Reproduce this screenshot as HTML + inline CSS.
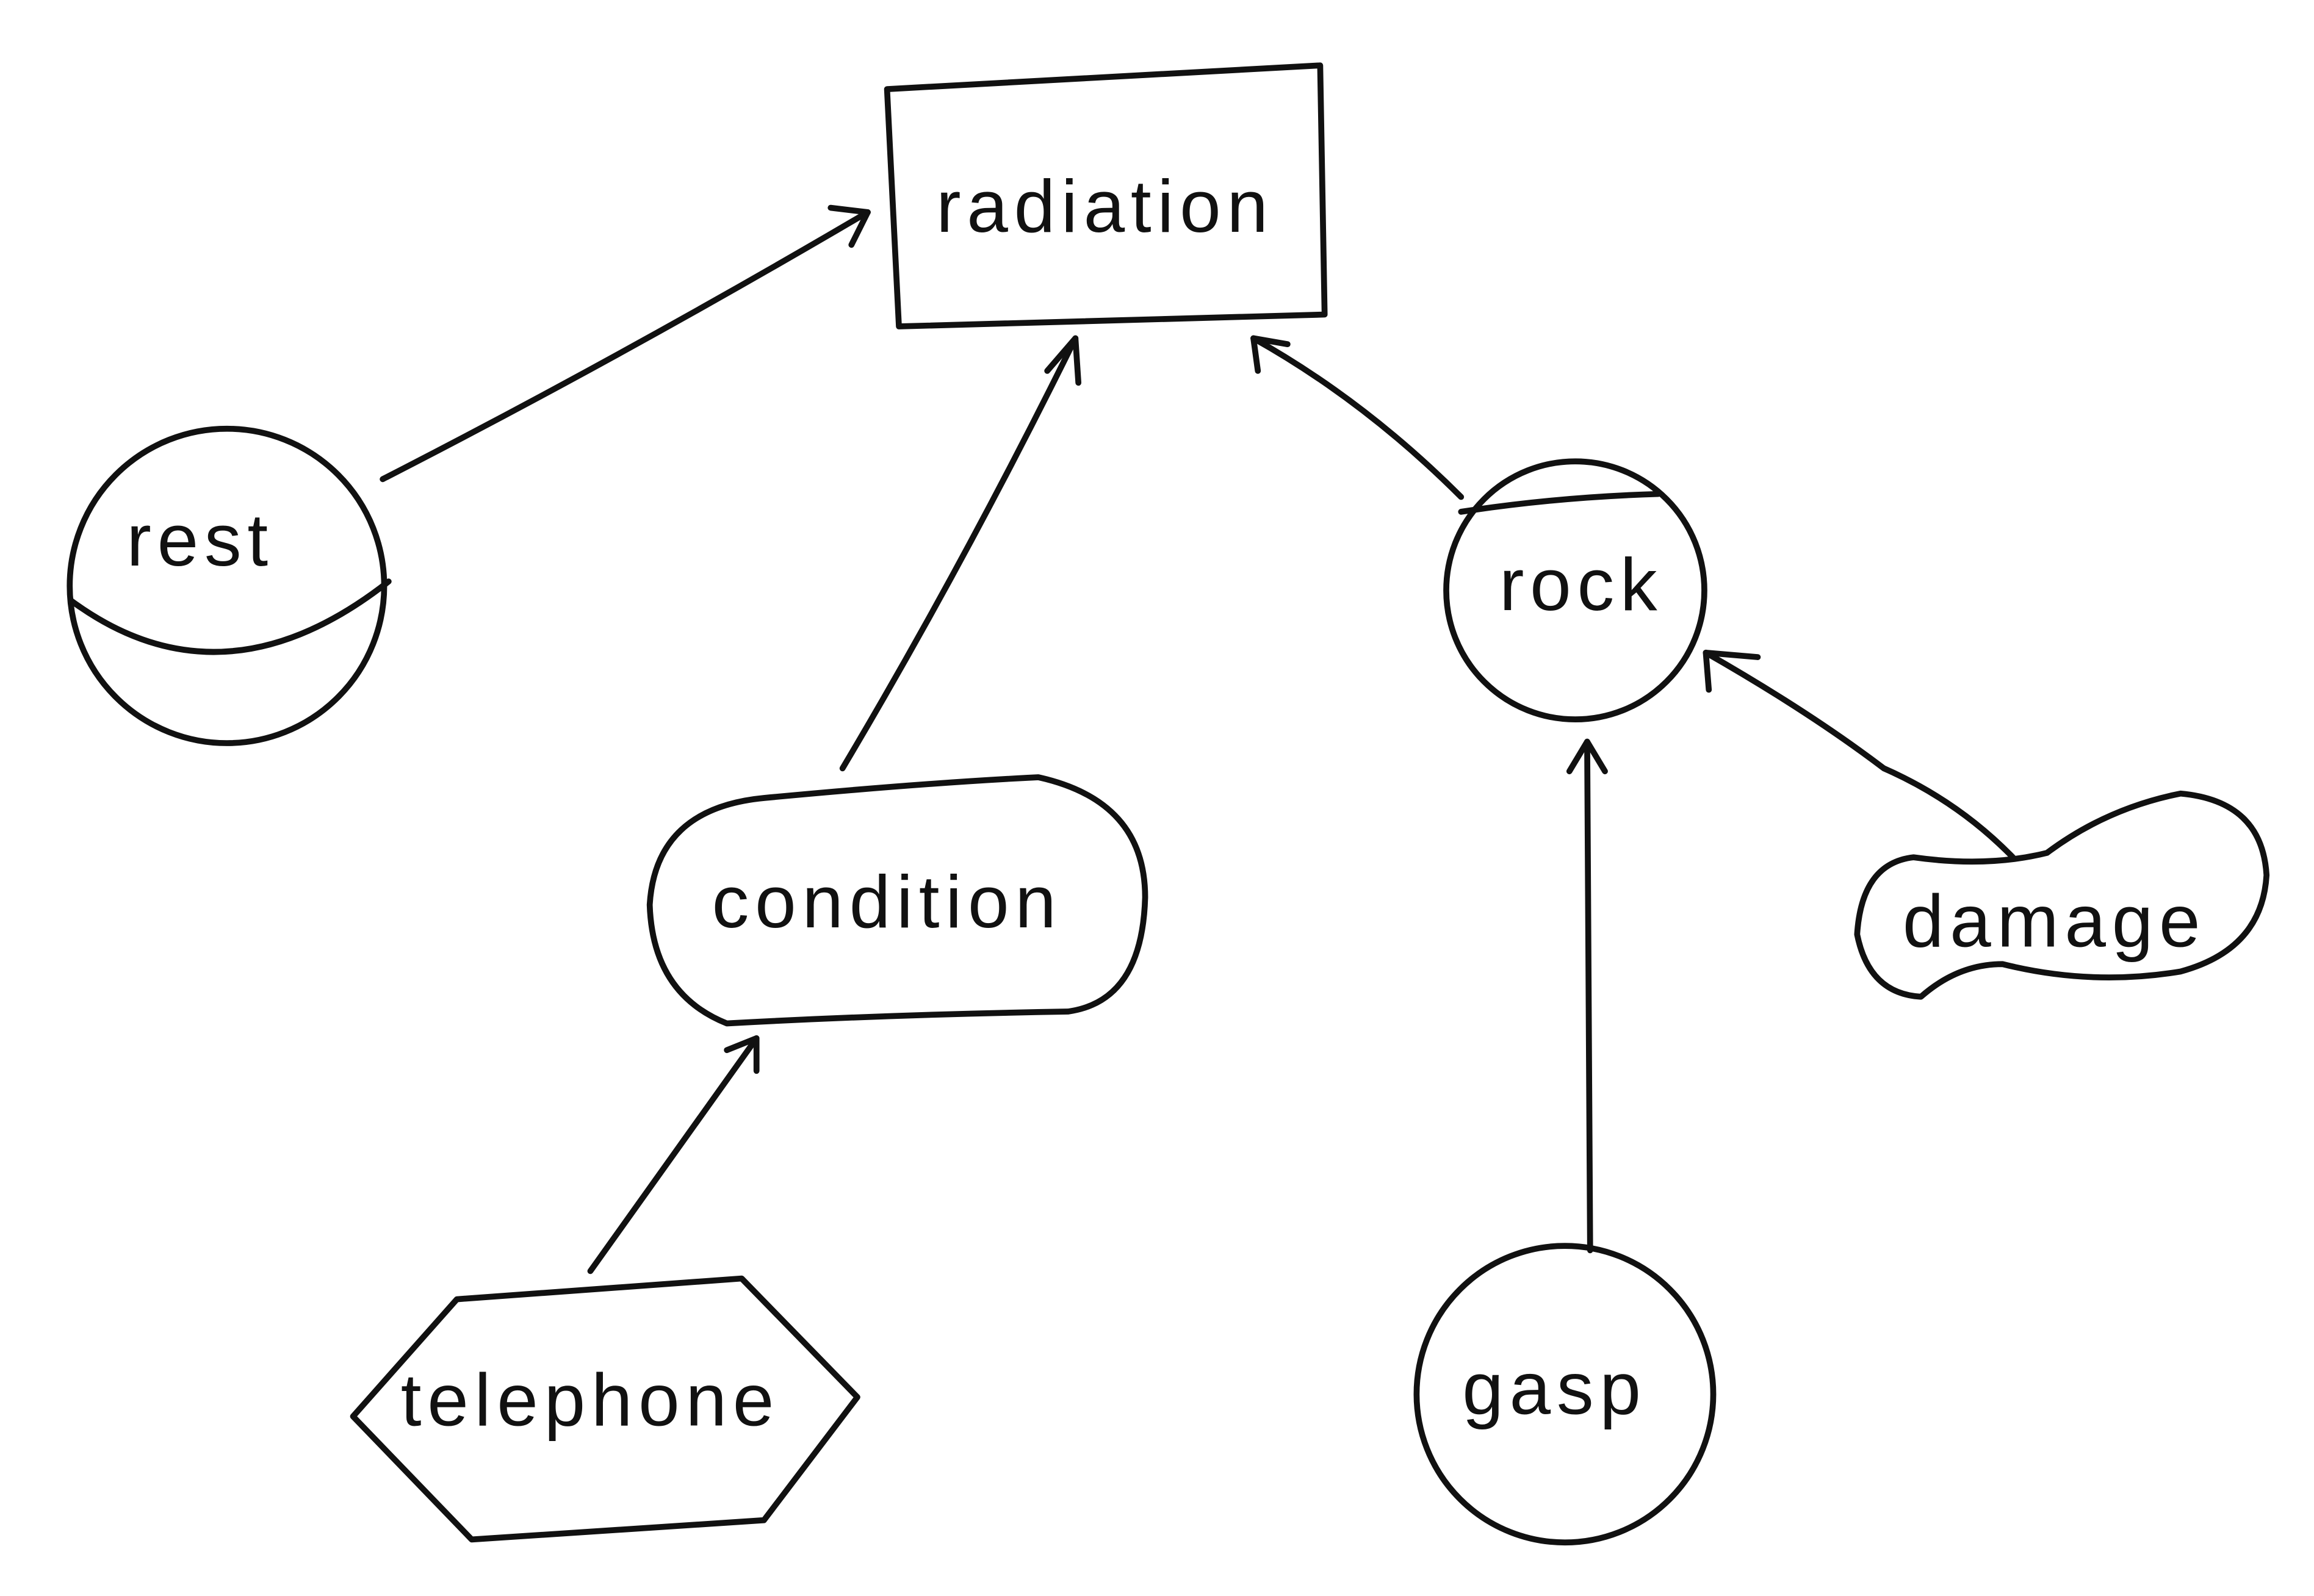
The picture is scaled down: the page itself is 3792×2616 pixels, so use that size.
<!DOCTYPE html>
<html><head><meta charset="utf-8"><style>
html,body{margin:0;padding:0;background:#fff;}
svg{display:block;}
text{font-family:"Liberation Sans",sans-serif;font-size:50px;fill:#111;text-anchor:middle;dominant-baseline:middle;letter-spacing:4px;}
</style></head><body>
<svg width="3792" height="2616" viewBox="0 0 1560 1076" xmlns="http://www.w3.org/2000/svg">
<rect width="1560" height="1076" fill="#fff"/>
<g fill="none" stroke="#111" stroke-width="4" stroke-linecap="round" stroke-linejoin="round">
<!-- radiation -->
<path d="M598,60 L890,44 L893,212 L606,220 Z"/>
<!-- rest -->
<circle cx="153" cy="395" r="106"/>
<path d="M48,405 Q150,480 262,392"/>
<!-- condition -->
<path d="M515,538 Q620,528 700,524 Q772,540 772,605 Q770,675 720,682 Q600,684 490,690 Q440,670 438,610 Q442,545 515,538 Z"/>
<!-- rock -->
<circle cx="1062" cy="398" r="87"/>
<path d="M985,345 Q1050,335 1118,333"/>
<!-- damage -->
<path d="M1290,578 Q1340,585 1380,575 Q1420,545 1470,535 Q1525,540 1528,590 Q1525,640 1470,655 Q1410,665 1350,650 Q1320,650 1295,672 Q1260,670 1252,630 Q1255,582 1290,578 Z"/>
<!-- gasp -->
<circle cx="1055" cy="940" r="100"/>
<!-- telephone -->
<path d="M238,955 L308,876 L500,862 L578,942 L515,1025 L318,1038 Z"/>
<!-- arrows -->
<path d="M258,323 Q420,240 585,143"/>
<path d="M560,140 L585,143 L574,165"/>
<path d="M568,518 Q650,380 725,228"/>
<path d="M706,250 L725,228 L727,258"/>
<path d="M985,335 Q920,270 845,228"/>
<path d="M848,250 L845,228 L868,232"/>
<path d="M1357,578 Q1320,540 1270,518 Q1220,480 1150,440"/>
<path d="M1152,465 L1150,440 L1185,443"/>
<path d="M1072,843 L1070,500"/>
<path d="M1058,520 L1070,500 L1082,520"/>
<path d="M398,857 L510,700"/>
<path d="M490,708 L510,700 L510,722"/>
</g>
<text x="745" y="143">radiation</text>
<text x="135" y="368">rest</text>
<text x="598" y="612">condition</text>
<text x="1066" y="398">rock</text>
<text x="1385" y="625">damage</text>
<text x="1048" y="940">gasp</text>
<text x="398" y="948">telephone</text>
</svg>
</body></html>
